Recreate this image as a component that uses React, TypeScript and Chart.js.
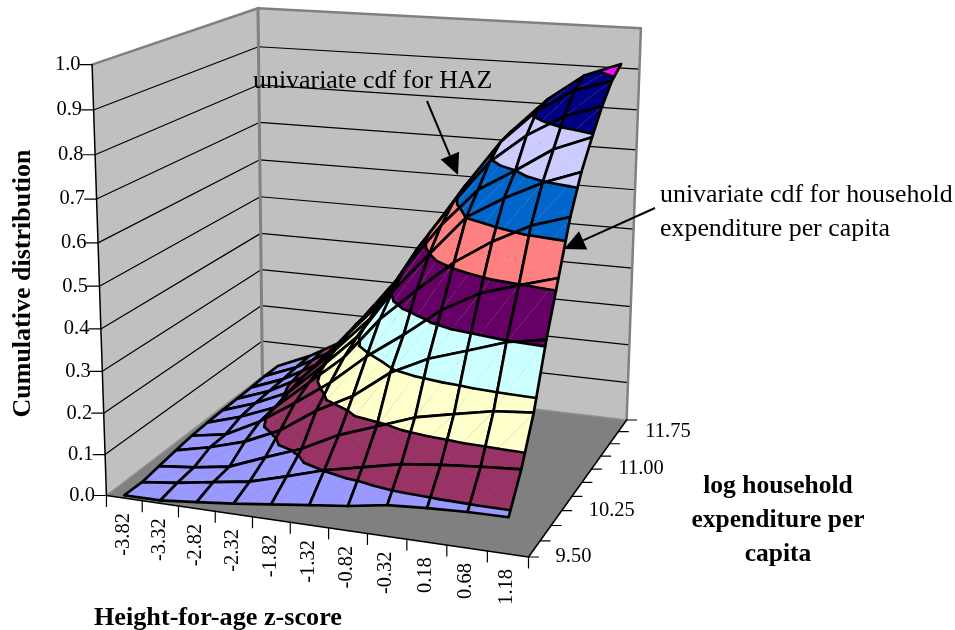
import React, { useEffect, useRef } from "react";
import { Chart, registerables } from "chart.js";

Chart.register(...registerables);

const hazLabels = ["-3.82","-3.32","-2.82","-2.32","-1.82","-1.32","-0.82","-0.32","0.18","0.68","1.18"];
const expLabels = ["9.50","","","10.25","","","11.00","","","11.75",""];
const cdfTicks = ["0.0","0.1","0.2","0.3","0.4","0.5","0.6","0.7","0.8","0.9","1.0"];

const row0 = [.007,.007,.016,.025,.036,.047,.058,.073,.079,.083,.084];
const row1 = [.005,.016,.03,.044,.069,.096,.115,.135,.145,.153,.159];
const row2 = [.012,.021,.035,.07,.103,.148,.18,.213,.232,.25,.258];
const row3 = [.019,.039,.065,.105,.165,.212,.279,.323,.352,.382,.398];
const row4 = [.025,.04,.085,.143,.205,.28,.343,.412,.461,.489,.515];
const row5 = [.028,.055,.09,.165,.24,.345,.426,.502,.56,.606,.634];
const row6 = [.03,.06,.10,.18,.265,.39,.49,.589,.642,.686,.719];
const row7 = [.031,.063,.11,.195,.285,.425,.54,.635,.689,.747,.782];
const row8 = [.032,.066,.115,.21,.305,.45,.575,.684,.756,.808,.839];
const row9 = [.035,.07,.12,.22,.325,.465,.595,.715,.80,.855,.884];
const row10 = [.035,.073,.123,.232,.342,.479,.602,.724,.811,.876,.91];
const cdfRows = [row0,row1,row2,row3,row4,row5,row6,row7,row8,row9,row10];

const bandColors = ["#9999FF","#993366","#FFFFCC","#CCFFFF","#660066","#FF8080","#0066CC","#CCCCFF","#000080","#FF00FF"];
const bandEdges = [0,.095,.188,.286,.385,.491,.587,.689,.788,.89,1];

// camera calibration: box corner (u 0..11, v 0..10, w 0..1) -> page position
const cameraAnchors = [
  [0,0,0,107,497],[11,0,0,528,556],[11,10,0,627,421],[0,10,0,262,375],
  [0,0,1,92,64],[0,10,1,258,9],[11,10,1,641,28],
];

function solveCamera(): number[] {
  const rows: number[][] = [];
  const rhs: number[] = [];
  for (const [u,v,w,px,py] of cameraAnchors) {
    const U=u/11,V=v/10,W=w,x=px/1000,y=py/1000;
    rows.push([U,V,W,1,0,0,0,0,-x*U,-x*V,-x*W]); rhs.push(x);
    rows.push([0,0,0,0,U,V,W,1,-y*U,-y*V,-y*W]); rhs.push(y);
  }
  const n=11;
  const M:number[][]=[];
  for(let a=0;a<n;a++){
    const line=new Array(n+1).fill(0);
    for(let b=0;b<n;b++) for(let r=0;r<rows.length;r++) line[b]+=rows[r][a]*rows[r][b];
    for(let r=0;r<rows.length;r++) line[n]+=rows[r][a]*rhs[r];
    M.push(line);
  }
  for(let c=0;c<n;c++){
    let p=c;
    for(let r=c+1;r<n;r++) if(Math.abs(M[r][c])>Math.abs(M[p][c])) p=r;
    [M[c],M[p]]=[M[p],M[c]];
    for(let r=0;r<n;r++){
      if(r===c) continue;
      const f=M[r][c]/M[c][c];
      for(let k=c;k<=n;k++) M[r][k]-=f*M[c][k];
    }
  }
  return M.map((l,i)=>l[n]/l[i]);
}
const cam = solveCamera();
function project(u:number,v:number,w:number){
  const U=u/11,V=v/10,W=w;
  const d=cam[8]*U+cam[9]*V+cam[10]*W+1;
  return {x:1000*(cam[0]*U+cam[1]*V+cam[2]*W+cam[3])/d,y:1000*(cam[4]*U+cam[5]*V+cam[6]*W+cam[7])/d};
}

type P3=[number,number,number];
function clipBand(poly:P3[],level:number,keepAbove:boolean):P3[]{
  const out:P3[]=[];
  for(let i=0;i<poly.length;i++){
    const a=poly[i],b=poly[(i+1)%poly.length];
    const ia=keepAbove?a[2]>=level:a[2]<=level;
    const ib=keepAbove?b[2]>=level:b[2]<=level;
    if(ia) out.push(a);
    if(ia!==ib){
      const t=(level-a[2])/(b[2]-a[2]);
      out.push([a[0]+t*(b[0]-a[0]),a[1]+t*(b[1]-a[1]),level]);
    }
  }
  return out;
}
function contourSeg(tri:P3[],level:number):P3[]{
  const pts:P3[]=[];
  for(let i=0;i<3;i++){
    const a=tri[i],b=tri[(i+1)%3];
    if((a[2]<level)!==(b[2]<level)){
      const t=(level-a[2])/(b[2]-a[2]);
      pts.push([a[0]+t*(b[0]-a[0]),a[1]+t*(b[1]-a[1]),level]);
    }
  }
  return pts.length===2?pts:[];
}

function buildDatasets(){
  const ds:any[]=[];
  const fillPoly=(pts:{x:number,y:number}[],color:string)=>ds.push({
    data:[...pts,pts[0]],showLine:true,fill:"shape",backgroundColor:color,borderWidth:0,pointRadius:0,clip:false,
  });
  const stroke=(pts:{x:number,y:number}[],color:string,width:number)=>ds.push({
    data:pts,showLine:true,fill:false,borderColor:color,borderWidth:width,pointRadius:0,clip:false,
    borderCapStyle:"round",borderJoinStyle:"round",
  });
  const U=11,Vm=10;
  fillPoly([project(0,0,0),project(0,Vm,0),project(0,Vm,1),project(0,0,1)],"#C0C0C0");
  fillPoly([project(0,Vm,0),project(U,Vm,0),project(U,Vm,1),project(0,Vm,1)],"#C0C0C0");
  fillPoly([project(0,0,0),project(U,0,0),project(U,Vm,0),project(0,Vm,0)],"#808080");
  for(let k=1;k<cdfTicks.length-1;k++){
    const w=k/10;
    stroke([project(0,0,w),project(0,Vm,w),project(U,Vm,w)],"#000000",1.2);
  }
  stroke([project(0,0,1),project(0,Vm,1),project(U,Vm,1),project(U,Vm,0)],"#808080",2.5);
  stroke([project(0,Vm,1),project(0,Vm,0)],"#808080",3);
  stroke([project(0,0,0),project(0,Vm,0),project(U,Vm,0)],"#909090",1.5);
  stroke([project(0,0,1),project(0,0,0),project(U,0,0),project(U,Vm,0)],"#000000",1.5);
  for(let k=0;k<cdfTicks.length;k++){
    const p=project(0,0,k/10);
    stroke([p,{x:p.x-12,y:p.y}],"#000000",1.2);
  }
  for(let k=0;k<=hazLabels.length;k++){
    const p=project(k,0,0);
    stroke([p,{x:p.x,y:p.y+11}],"#000000",1.2);
  }
  for(let k=0;k<expLabels.length;k++){
    const p=project(U,k,0);
    stroke([p,{x:p.x+10,y:p.y}],"#000000",1.2);
  }
  const nI=hazLabels.length,nJ=cdfRows.length;
  for(let j=nJ-2;j>=0;j--){
    for(let i=0;i<nI-1;i++){
      const c=(a:number,b:number):P3=>[a+.5,b,cdfRows[b][a]];
      const p00=c(i,j),p10=c(i+1,j),p11=c(i+1,j+1),p01=c(i,j+1);
      const tris:P3[][]=[[p00,p11,p01],[p00,p10,p11]];
      for(const tri of tris){
        bandColors.forEach((col,b)=>{
          let poly=clipBand(tri,bandEdges[b],true);
          if(poly.length>=3) poly=clipBand(poly,bandEdges[b+1],false);
          if(poly.length>=3) fillPoly(poly.map(q=>project(q[0],q[1],q[2])),col);
        });
      }
      for(const tri of tris){
        for(let b=1;b<bandColors.length;b++){
          const seg=contourSeg(tri,bandEdges[b]);
          if(seg.length) stroke(seg.map(q=>project(q[0],q[1],q[2])),"#000000",2.6);
        }
      }
      stroke([p00,p10,p11,p01,p00].map(q=>project(q[0],q[1],q[2])),"#000000",2.7);
    }
  }
  return ds;
}

const textPlugin={
  id:"chartText",
  afterDraw(chart:any){
    const ctx=chart.ctx as CanvasRenderingContext2D;
    ctx.save();
    ctx.fillStyle="#000";
    const serif='"Liberation Serif"';
    ctx.font=`20.5px ${serif}`;
    ctx.textBaseline="middle";
    ctx.textAlign="right";
    cdfTicks.forEach((t,k)=>{const p=project(0,0,k/10);ctx.fillText(t,p.x-11.5,p.y);});
    ctx.textAlign="left";
    expLabels.forEach((t,k)=>{if(!t)return;const p=project(11,k,0);ctx.fillText(t,p.x+27,p.y);});
    hazLabels.forEach((t,k)=>{
      const p=project(k+.5,0,0);
      ctx.save();ctx.translate(p.x-1,p.y+15);ctx.rotate(-Math.PI/2);ctx.textAlign="right";ctx.fillText(t,0,0);ctx.restore();
    });
    ctx.textBaseline="alphabetic";
    ctx.font=`25.9px ${serif}`;
    ctx.textAlign="left";
    ctx.fillText("univariate cdf for HAZ",253,88);
    ctx.fillText("univariate cdf for household",660,202);
    ctx.fillText("expenditure per capita",660,236);
    ctx.font=`bold 26.2px ${serif}`;
    ctx.fillText("Height-for-age z-score",94,625);
    ctx.textAlign="center";
    ctx.save();ctx.font=`bold 26px ${serif}`;ctx.translate(30,283.5);ctx.rotate(-Math.PI/2);ctx.fillText("Cumulative distribution",0,0);ctx.restore();
    ctx.font=`bold 25.5px ${serif}`;
    ctx.fillText("log household",778,493);
    ctx.fillText("expenditure per",778,527);
    ctx.fillText("capita",778,561);
    const arrow=(x0:number,y0:number,x1:number,y1:number)=>{
      ctx.strokeStyle="#000";ctx.lineWidth=2;
      const a=Math.atan2(y1-y0,x1-x0),len=21,hw=10;
      const bx=x1-len*Math.cos(a),by=y1-len*Math.sin(a);
      ctx.beginPath();ctx.moveTo(x0,y0);ctx.lineTo(bx,by);ctx.stroke();
      ctx.beginPath();ctx.moveTo(x1,y1);
      ctx.lineTo(bx-hw*Math.sin(a),by+hw*Math.cos(a));
      ctx.lineTo(bx+hw*Math.sin(a),by-hw*Math.cos(a));
      ctx.closePath();ctx.fill();
    };
    arrow(427,101,458,175);
    arrow(655,208,564,249);
    ctx.restore();
  },
};

export default function App(){
  const ref=useRef<HTMLCanvasElement>(null);
  useEffect(()=>{
    document.body.style.margin="0";
    const ds=buildDatasets().reverse();
    const chart=new Chart(ref.current!,{
      type:"scatter",
      data:{datasets:ds},
      options:{
        responsive:false,animation:false,devicePixelRatio:1,events:[],
        layout:{padding:0},
        plugins:{legend:{display:false},tooltip:{enabled:false},title:{display:false}},
        scales:{
          x:{type:"linear",min:0,max:955,display:false},
          y:{type:"linear",min:0,max:630,reverse:true,display:false},
        },
      },
      plugins:[textPlugin],
    } as any);
    return ()=>chart.destroy();
  },[]);
  return <canvas ref={ref} width={955} height={630} style={{display:"block"}}/>;
}
